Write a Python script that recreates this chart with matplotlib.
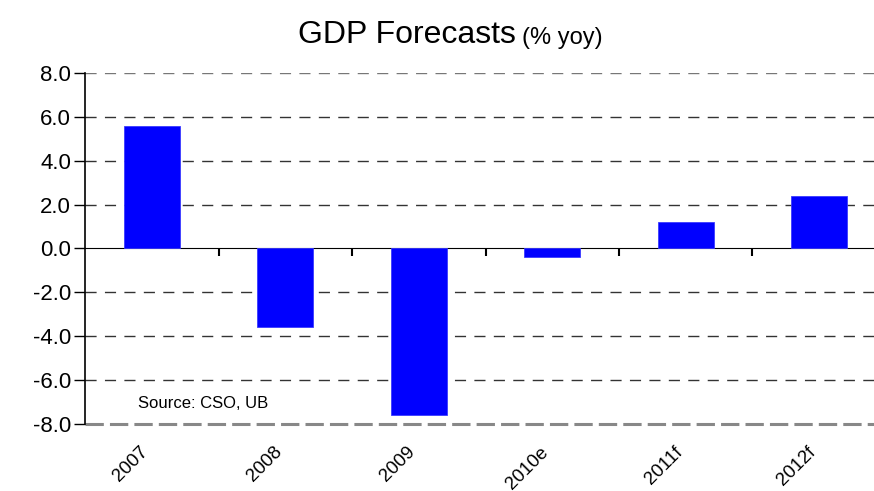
import matplotlib.pyplot as plt
import matplotlib.transforms as mtransforms
import numpy as np

years = ['2007', '2008', '2009', '2010e', '2011f', '2012f']
gdp_growth = [5.6, -3.6, -7.6, -0.4, 1.2, 2.4]
y_ticks = [-8.0, -6.0, -4.0, -2.0, 0.0, 2.0, 4.0, 6.0, 8.0]

plt.rcParams['font.family'] = ['Liberation Sans', 'DejaVu Sans']

fig = plt.figure(figsize=(8.74, 4.91), dpi=100)
ax = fig.add_axes([0.0973, 0.1365, 0.9164, 0.7148])

x = np.arange(len(years))
ax.bar(x, gdp_growth, width=0.42, color='#0000ff', edgecolor='#3a3aff',
       linewidth=0.6, zorder=3)

ax.set_xlim(-0.5, len(years) - 0.5)
ax.set_ylim(-8, 8)
ax.set_yticks(y_ticks)
ax.set_yticklabels(['%.1f' % v for v in y_ticks], fontsize=16)
ax.tick_params(axis='y', direction='out', length=8, width=1, pad=2)

ax.set_xticks(x)
ax.set_xticklabels(years, rotation=45, ha='right', rotation_mode='anchor',
                   fontsize=13.5)
ax.tick_params(axis='x', length=0, pad=14)
shift = mtransforms.ScaledTranslation(-0.12, 0, fig.dpi_scale_trans)
for lbl in ax.get_xticklabels():
    lbl.set_transform(lbl.get_transform() + shift)

# dashed gridlines between the outer limits
for v in y_ticks[1:-1]:
    if v != 0:
        ax.axhline(v, color='#333333', lw=1, ls=(0, (8, 6)), zorder=1)
ax.axhline(8, color='#777777', lw=1, ls=(0, (8, 6)), zorder=1)
ax.axhline(-8, color='#888888', lw=2.2, ls=(0, (6, 2)), zorder=1, clip_on=False)

for side in ['top', 'right', 'bottom']:
    ax.spines[side].set_visible(False)
ax.spines['left'].set_linewidth(1.2)

# zero line with category separators
zero_axis = ax.secondary_xaxis(0.5)
zero_axis.set_xticks(x[:-1] + 0.5)
zero_axis.set_xticklabels([])
zero_axis.tick_params(direction='in', length=6, width=1.5)
zero_axis.spines['bottom'].set_linewidth(1.6)

ax.text(0.066, 0.046, 'Source: CSO, UB', transform=ax.transAxes,
        fontsize=12, va='baseline')

fig.text(0.590, 0.928, 'GDP Forecasts', fontsize=23, ha='right', va='center')
fig.text(0.597, 0.923, '(% yoy)', fontsize=17, ha='left', va='center')

fig.savefig('out.png', dpi=100)
